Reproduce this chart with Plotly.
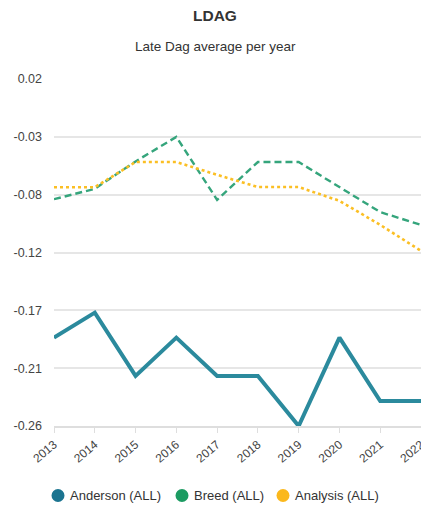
import plotly.graph_objects as go

years = ["2013", "2014", "2015", "2016", "2017", "2018", "2019", "2020", "2021", "2022"]
anderson = [-0.1887, -0.1685, -0.2196, -0.1887, -0.2196, -0.2196, -0.2600, -0.1887, -0.2398, -0.2398]
breed = [-0.0770, -0.0686, -0.0465, -0.0267, -0.0775, -0.0470, -0.0470, -0.0670, -0.0874, -0.0977]
analysis = [-0.0673, -0.0673, -0.0470, -0.0470, -0.0573, -0.0672, -0.0672, -0.0783, -0.0977, -0.1187]

tick_vals = [0.02, -0.02667, -0.07333, -0.12, -0.16667, -0.21333, -0.26]
tick_text = ["0.02", "-0.03", "-0.08", "-0.12", "-0.17", "-0.21", "-0.26"]

series = [
    ("Anderson (ALL)", anderson, "#2b8a9d", "#1b7490", "solid", 4),
    ("Breed (ALL)", breed, "#35a57c", "#1c9b62", "7px,4px", 2.4),
    ("Analysis (ALL)", analysis, "#fbbf24", "#fbb81c", "3px,3px", 2.6),
]

W, H = 421, 508
L, R, T, B = 54, 0, 79, 82
PW, PH = W - L - R, H - T - B

def px_x(p):
    return (p - L) / PW

def px_y(p):
    return (H - B - p) / PH

fig = go.Figure()
for name, vals, lc, mc, dash, w in series:
    fig.add_trace(go.Scatter(x=years, y=vals, mode="lines", name=name,
                             line=dict(color=lc, width=w, dash=dash),
                             showlegend=False, hoverinfo="x+y"))

shapes = []
annotations = [
    dict(text="<b>LDAG</b>", xref="paper", yref="paper", x=px_x(215), y=px_y(15),
         xanchor="center", yanchor="middle", showarrow=False,
         font=dict(size=15.5, color="#333")),
    dict(text="Late Dag average per year", xref="paper", yref="paper", x=px_x(215), y=px_y(46),
         xanchor="center", yanchor="middle", showarrow=False,
         font=dict(size=13.5, color="#333")),
]
leg_x = [58, 182, 283]
leg_y = 495.5
for (name, vals, lc, mc, dash, w), cx in zip(series, leg_x):
    shapes.append(dict(type="circle", xref="paper", yref="paper",
                       xsizemode="pixel", ysizemode="pixel",
                       xanchor=px_x(cx), yanchor=px_y(leg_y),
                       x0=-6.5, x1=6.5, y0=-6.5, y1=6.5,
                       fillcolor=mc, line=dict(width=0)))
    annotations.append(dict(text=name, xref="paper", yref="paper",
                            x=px_x(cx + 10), y=px_y(leg_y), xanchor="left", yanchor="middle",
                            showarrow=False, font=dict(size=13, color="#333")))

fig.update_layout(
    width=W, height=H,
    margin=dict(l=L, r=R, t=T, b=B),
    paper_bgcolor="white", plot_bgcolor="white",
    font=dict(family="Liberation Sans, Arial, sans-serif", size=12, color="#333"),
    showlegend=False,
    shapes=shapes,
    annotations=annotations,
    xaxis=dict(type="category", range=[0, 9], showgrid=False, showline=True,
               linecolor="#dedede", linewidth=2, ticks="outside", ticklen=5,
               tickcolor="#dedede", tickangle=-40, tickfont=dict(size=12, color="#444"),
               automargin=False, fixedrange=True),
    yaxis=dict(range=[-0.26, 0.02], tickvals=tick_vals, ticktext=tick_text,
               showgrid=True, gridcolor="#e6e6e6", gridwidth=1.5, zeroline=False,
               showline=False, ticks="", ticklabelstandoff=11,
               tickfont=dict(size=12.5, color="#444"), automargin=False, fixedrange=True),
)

fig.write_html("out.html", config={"displayModeBar": False},
               post_script="document.body.style.margin='0';document.body.style.overflow='hidden';")
